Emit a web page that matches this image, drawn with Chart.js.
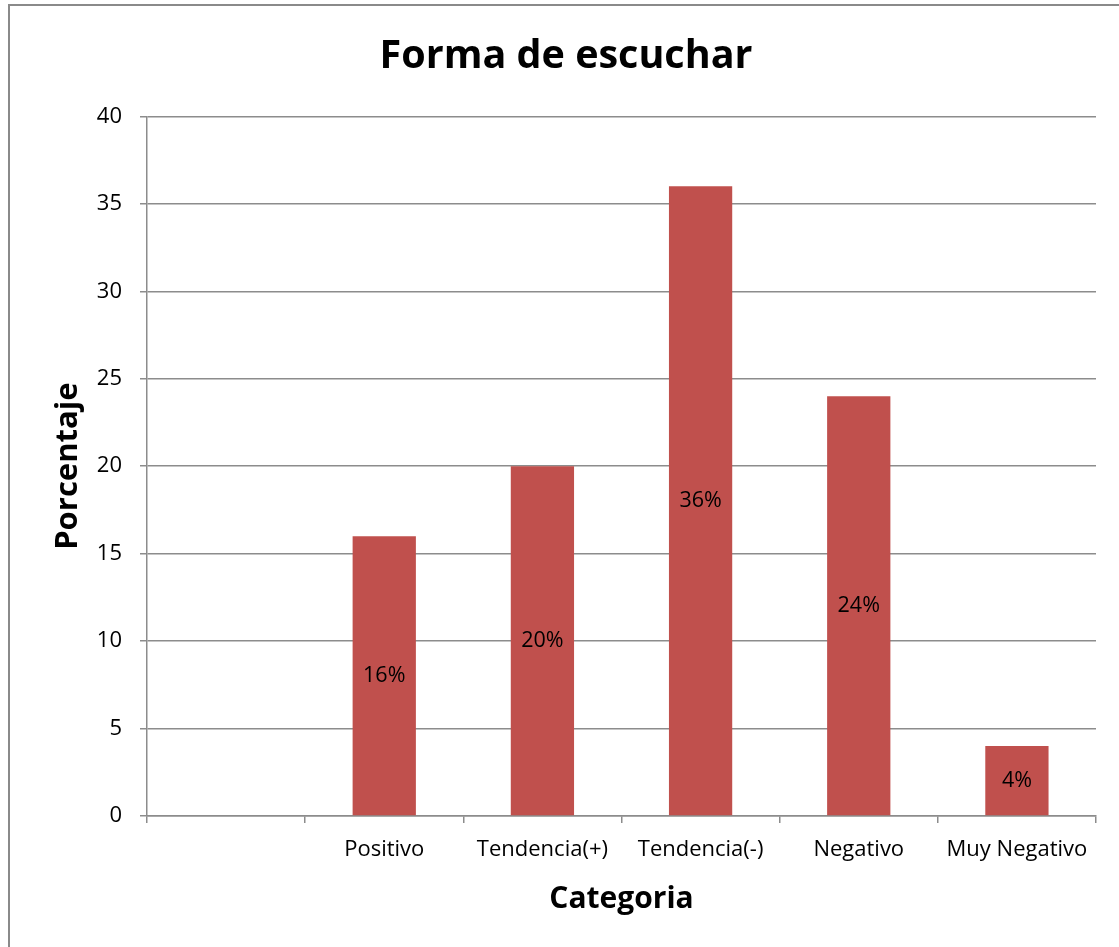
<!DOCTYPE html>
<html lang="es">
<head>
    <meta charset="UTF-8">
    <title>Forma de escuchar</title>
    <script src="https://cdn.jsdelivr.net/npm/chart.js"></script>
    <style>
        html, body { margin: 0; padding: 0; background: #fff; overflow: hidden; }
        #frame {
            position: absolute; left: 8px; top: 4px;
            width: 1200px; height: 1000px;
            border-left: 2px solid #8a8a8a; border-top: 2px solid #8a8a8a;
        }
        #wrap { position: absolute; left: 0; top: 0; width: 1119px; height: 947px; }
    </style>
</head>
<body>
<div id="frame"></div>
<div id="wrap"><canvas id="chart"></canvas></div>

<script>
// categorias (la primera esta vacia en el original)
const categorias = ['', 'Positivo', 'Tendencia(+)', 'Tendencia(-)', 'Negativo', 'Muy Negativo'];
const porcentajes = [null, 16, 20, 36, 24, 4];
const etiquetas = ['', '16%', '20%', '36%', '24%', '4%'];

const FONT = '"Open Sans", sans-serif';
const GRID = '#8c8c8c';

// etiquetas de datos en el centro de cada barra
const barLabels = {
    id: 'barLabels',
    afterDatasetsDraw(chart) {
        const ctx = chart.ctx;
        const meta = chart.getDatasetMeta(0);
        const y = chart.scales.y;
        ctx.save();
        ctx.font = '21.5px ' + FONT;
        ctx.fillStyle = '#000';
        ctx.textAlign = 'center';
        ctx.textBaseline = 'middle';
        meta.data.forEach((bar, i) => {
            if (porcentajes[i] == null) return;
            ctx.fillText(etiquetas[i], bar.x, y.getPixelForValue(porcentajes[i] / 2));
        });
        ctx.restore();
    }
};

new Chart(document.getElementById('chart'), {
    type: 'bar',
    data: {
        labels: categorias,
        datasets: [{
            data: porcentajes,
            backgroundColor: '#c0504d',
            barPercentage: 0.4,
            categoryPercentage: 1
        }]
    },
    plugins: [barLabels],
    options: {
        responsive: true,
        maintainAspectRatio: false,
        animation: false,
        layout: { padding: { left: 36, right: 23, top: 0, bottom: 0 } },
        plugins: {
            legend: { display: false },
            tooltip: { enabled: false },
            title: {
                display: true,
                text: 'Forma de escuchar',
                color: '#000',
                font: { family: FONT, size: 39.5, weight: 'bold', lineHeight: 1.2 },
                padding: { top: 33, bottom: 36 }
            }
        },
        scales: {
            x: {
                afterFit(scale) { scale.height = 131; },
                grid: {
                    offset: true,
                    drawOnChartArea: false,
                    drawTicks: true,
                    tickLength: 7,
                    color: GRID,
                    lineWidth: 1.5
                },
                border: { color: GRID, width: 1.5 },
                ticks: { color: '#000', font: { family: FONT, size: 22 }, padding: 14, maxRotation: 0 },
                title: {
                    display: true,
                    text: 'Categoria',
                    color: '#000',
                    font: { family: FONT, size: 30, weight: 'bold', lineHeight: 1.2 },
                    padding: { bottom: 30 }
                }
            },
            y: {
                min: 0,
                max: 40,
                afterFit(scale) { scale.width = 111; },
                ticks: { stepSize: 5, color: '#000', font: { family: FONT, size: 22 }, padding: 18 },
                grid: { color: GRID, lineWidth: 1.5, tickLength: 7 },
                border: { color: GRID, width: 1.5 },
                title: {
                    display: true,
                    text: 'Porcentaje',
                    color: '#000',
                    font: { family: FONT, size: 31, weight: 'bold', lineHeight: 1.2 },
                    padding: { top: 14 }
                }
            }
        }
    }
});
</script>
</body>
</html>
